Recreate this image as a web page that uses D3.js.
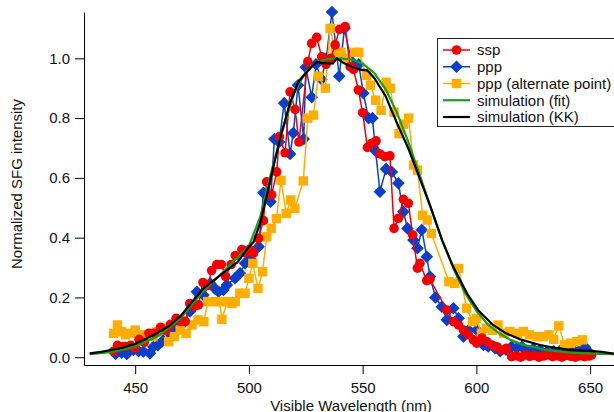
<!DOCTYPE html>
<html>
<head>
<meta charset="utf-8">
<script src="https://cdn.jsdelivr.net/npm/d3@7"></script>
<style>
  body { margin: 0; background: #fff; }
  svg { display: block; font-family: "Liberation Sans", Arial, sans-serif; }
</style>
</head>
<body>
<div id="chart"></div>
<script>
var canvasWidth = 614;
var canvasHeight = 412;

/* ssp (red circles) */
var sspNm = [440.5,442.2,444,445.7,448,450,451.7,454,456,458.3,461.2,463.5,465.5,468,470,472,474,476,477.8,479.8,481.8,483.6,485.9,487.9,489.8,492.2,494,496.9,498.4,500.2,502,504.2,506.4,507.8,510,512.2,513.4,515.9,518.1,520.3,522,525.9,527.6,529.8,532,533.9,536,537.9,539.8,542.3,544.5,546,548.1,550,552.1,554,555.9,557.6,559.8,562,563.8,565.7,567.9,570.1,572,574.1,575.2,578.2,579.6,587,589.9,592.1,594.3,596.5,598.7,600.2,602.4,604.6,606.8,609,611.1,613.3,615.5,617.5,619.5,621.5,623.5,625.5,627.5,629.5,631.5,633.5,635.5,637.5,639.5,641.5,643.5,645.5,647.5,649.5,650.7];
var sspVal = [0.02,0.04,0.035,0.036,0.04,0.03,0.06,0.05,0.08,0.08,0.10,0.09,0.11,0.13,0.12,0.12,0.18,0.17,0.175,0.25,0.24,0.29,0.31,0.31,0.27,0.31,0.34,0.36,0.35,0.36,0.348,0.398,0.457,0.587,0.543,0.62,0.738,0.684,0.888,0.829,0.72,0.989,1.05,1.07,1.005,0.98,1.0,1.045,1.097,1.106,0.972,0.963,0.894,0.818,0.702,0.716,0.724,0.68,0.671,0.674,0.431,0.465,0.528,0.515,0.409,0.298,0.314,0.256,0.261,0.158,0.119,0.108,0.091,0.075,0.058,0.047,0.064,0.052,0.041,0.035,0.024,0.03,0.002,0.005,0.0,0.008,0.003,0.006,0.0,0.004,0.008,0.002,0.005,0.0,0.006,0.003,0.0,0.005,0.002,0.004,0.008];

/* ppp (blue diamonds) */
var pppNm = [441.4,443.1,444.1,446.3,448.3,449.2,451.5,453.6,456.5,458,460,461.7,464,466.5,469,471.2,474.1,477.1,480,483,485,486.6,488.8,490.3,493.9,496.1,498.3,500.5,504.3,506.4,509.5,511.2,513.3,515.5,518.1,519.5,521.6,524.1,525,527.6,529.5,531.9,534,536.5,539.7,542,545,548.3,550.3,552.6,554.3,555.7,557.6,560.3,562.8,565.7,567.9,569.7,572.3,574.1,576,578.2,579.6,582,584.8,587,589.9,592.2,594.3,596.6,600.2,603.1,605.2,608.2,610.5,613,615.5,617.7,620,622.5,625,628,631,634,637,640,642.6,645,647.8,649.2];
var pppVal = [0.011,0.024,0.015,0.011,0.03,0.024,0.02,0.019,0.013,0.035,0.04,0.052,0.07,0.09,0.108,0.114,0.153,0.219,0.208,0.247,0.23,0.219,0.225,0.242,0.264,0.281,0.314,0.33,0.37,0.55,0.52,0.73,0.72,0.85,0.68,0.75,0.91,0.73,0.97,0.87,0.98,0.93,1.0,1.155,0.94,1.10,0.99,0.98,0.883,0.80,0.80,0.69,0.554,0.63,0.62,0.582,0.487,0.431,0.392,0.365,0.426,0.336,0.27,0.2,0.169,0.125,0.164,0.13,0.069,0.091,0.091,0.041,0.036,0.03,0.02,0.025,0.035,0.03,0.035,0.02,0.028,0.024,0.018,0.02,0.022,0.018,0.024,0.02,0.033,0.019];

/* ppp (alternate point) (orange squares) */
var altNm = [440.5,442.2,444,445.7,448,450,452.6,455,457.8,459.5,461.2,464.7,467.2,469.8,472.4,475,477.6,480.2,481.9,484.5,487.1,488.1,490.5,492.5,494,496,498.3,500,501.7,504,506,507.8,509.8,512.1,514.1,516.4,518.4,520.2,523.9,525.9,528.4,530.5,533.6,535.7,538,540.5,543,546.6,548.3,551.7,553.4,555.7,558.1,560.3,562.2,563.8,566,568.1,570.2,572.4,574.1,576.4,578.4,580.2,587.9,590.5,592.2,595.7,598.3,600,602.2,604.3,607,609.5,612,614.7,618.1,620.7,623.3,626.7,629.3,631.9,634,636.2,638.8,641.4,644,646.6];
var altVal = [0.08,0.108,0.085,0.075,0.08,0.091,0.075,0.07,0.069,0.085,0.097,0.052,0.069,0.091,0.08,0.108,0.125,0.119,0.186,0.186,0.186,0.127,0.186,0.18,0.186,0.214,0.214,0.264,0.314,0.23,0.286,0.403,0.431,0.464,0.592,0.481,0.526,0.498,0.59,0.80,0.81,0.94,0.90,1.10,1.02,1.02,1.0,1.02,1.02,0.943,0.91,0.86,0.826,0.92,0.90,0.82,0.748,0.78,0.80,0.643,0.626,0.475,0.459,0.414,0.253,0.247,0.297,0.164,0.119,0.13,0.08,0.097,0.09,0.108,0.08,0.086,0.08,0.086,0.075,0.069,0.069,0.075,0.06,0.105,0.041,0.047,0.052,0.058];

/* simulation (fit), green */
var fitNm = [430,440,450,460,470,480,490,500,505,510,515,520,525,530,535,540,545,550,555,560,565,570,575,580,585,590,595,600,605,610,615,620,630,640,650,660.5];
var fitVal = [0.01,0.018,0.035,0.07,0.13,0.222,0.295,0.372,0.47,0.625,0.765,0.885,0.955,0.988,0.998,1.0,0.996,0.982,0.952,0.898,0.82,0.722,0.612,0.5,0.39,0.295,0.215,0.155,0.11,0.08,0.058,0.043,0.025,0.016,0.012,0.01];

/* simulation (KK), black */
var kkNm = [430,435,440,445,450,455,460,465,470,475,480,485,490,495,500,502,505,508,511,514,518,522,525,528,530,532,535,537,538.6,541.5,545,549,552,555,560,565,570,574,580,585,590,596,601,607,613,620,628,635,642,650,655,660.5];
var kkVal = [0.013,0.018,0.025,0.033,0.045,0.063,0.083,0.105,0.138,0.185,0.23,0.26,0.29,0.318,0.37,0.385,0.45,0.545,0.645,0.74,0.85,0.925,0.95,0.975,0.988,0.985,0.982,0.983,1.0,0.985,0.972,0.962,0.96,0.935,0.875,0.785,0.70,0.62,0.50,0.39,0.30,0.212,0.155,0.11,0.08,0.058,0.041,0.031,0.024,0.021,0.018,0.012];

var xTicks = [450,500,550,600,650];
var yTicks = [0.0,0.2,0.4,0.6,0.8,1.0];
var legendLabels = ["ssp","ppp","ppp (alternate point)","simulation (fit)","simulation (KK)"];

var colRed = "#f50000", colBlue = "#0a3fcc", colOrange = "#ffae00", colGreen = "#16a016";
var fontSize = "15px";

var svg = d3.select("#chart").append("svg")
    .attr("width", canvasWidth)
    .attr("height", canvasHeight);

/*Scales*/
var x = d3.scaleLinear().domain([427.5, 660.5]).range([84, 614]);
var y = d3.scaleLinear().domain([-0.026, 1.155]).range([365, 12]);

/*Axes*/
svg.append("g")
    .attr("transform", "translate(0,365)")
    .call(d3.axisBottom(x).tickValues(xTicks).tickSize(9).tickPadding(8).tickSizeOuter(0))
    .call(g => g.selectAll("text").style("font-size", fontSize).attr("fill", "#111"));

svg.append("g")
    .attr("transform", "translate(84,0)")
    .call(d3.axisLeft(y).tickValues(yTicks).tickFormat(d3.format(".1f")).tickSize(9).tickPadding(5).tickSizeOuter(0))
    .call(g => g.selectAll("text").style("font-size", fontSize).attr("fill", "#111"));

svg.append("text")
    .attr("transform", "translate(22,184) rotate(-90)")
    .attr("text-anchor", "middle")
    .style("font-size", fontSize)
    .attr("fill", "#111")
    .text("Normalized SFG intensity");

svg.append("text")
    .attr("x", 351)
    .attr("y", 411)
    .attr("text-anchor", "middle")
    .style("font-size", fontSize)
    .attr("fill", "#111")
    .text("Visible Wavelength (nm)");

var plot = svg.append("g");
var line = d3.line().x(d => x(d[0])).y(d => y(d[1]));

function pairs(a, b) { return a.map((v, i) => [v, b[i]]); }

/*Marker shapes*/
function diamond(cx, cy, r) {
    return "M" + cx + "," + (cy - r) + "L" + (cx + r) + "," + cy + "L" + cx + "," + (cy + r) + "L" + (cx - r) + "," + cy + "Z";
}
function drawMarker(g, kind, cx, cy, col) {
    if (kind == "circle") g.append("circle").attr("cx", cx).attr("cy", cy).attr("r", 4.8).attr("fill", col);
    else if (kind == "diamond") g.append("path").attr("d", diamond(cx, cy, 6.3)).attr("fill", col);
    else g.append("rect").attr("x", cx - 4.7).attr("y", cy - 4.7).attr("width", 9.4).attr("height", 9.4).attr("fill", col);
}

var series = [
    {nm: pppNm, val: pppVal, col: colBlue, kind: "diamond"},
    {nm: altNm, val: altVal, col: colOrange, kind: "square"},
    {nm: sspNm, val: sspVal, col: colRed, kind: "circle"}
];

series.forEach(function(s) {
    var data = pairs(s.nm, s.val);
    var g = plot.append("g");
    g.append("path")
        .attr("d", line(data))
        .attr("fill", "none")
        .attr("stroke", s.col)
        .attr("stroke-width", 1.5);
    data.forEach(d => drawMarker(g, s.kind, x(d[0]), y(d[1]), s.col));
});

plot.append("path")
    .attr("d", line(pairs(fitNm, fitVal)))
    .attr("fill", "none")
    .attr("stroke", colGreen)
    .attr("stroke-width", 2.2);

plot.append("path")
    .attr("d", line(pairs(kkNm, kkVal)))
    .attr("fill", "none")
    .attr("stroke", "#000")
    .attr("stroke-width", 2.2);

/*Legend*/
var leg = svg.append("g");
leg.append("rect")
    .attr("x", 437.5).attr("y", 38.5)
    .attr("width", 190).attr("height", 88)
    .attr("fill", "#fff")
    .attr("stroke", "#222")
    .attr("stroke-width", 1);

var legCols = [colRed, colBlue, colOrange, colGreen, "#000"];
var legKinds = ["circle", "diamond", "square", null, null];
legendLabels.forEach(function(lab, i) {
    var ly = 50 + i * 16.75;
    leg.append("line")
        .attr("x1", 443).attr("x2", 470)
        .attr("y1", ly).attr("y2", ly)
        .attr("stroke", legCols[i])
        .attr("stroke-width", i < 3 ? 1.5 : 2.2);
    if (legKinds[i]) drawMarker(leg, legKinds[i], 456.5, ly, legCols[i]);
    leg.append("text")
        .attr("x", 477)
        .attr("y", ly)
        .attr("dy", "0.35em")
        .style("font-size", fontSize)
        .attr("fill", "#111")
        .text(lab);
});
</script>
</body>
</html>
